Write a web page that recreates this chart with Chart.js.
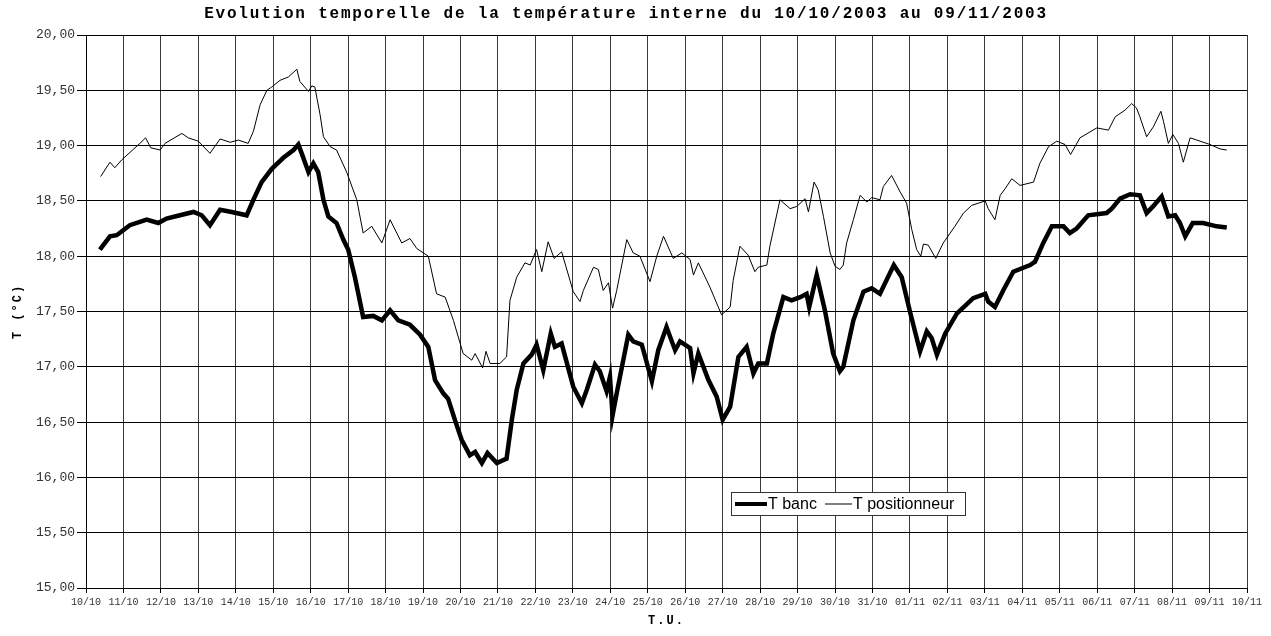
<!DOCTYPE html>
<html lang="fr">
<head>
    <meta charset="UTF-8">
    <title>Evolution temporelle de la température interne</title>
    <script src="https://cdnjs.cloudflare.com/ajax/libs/Chart.js/4.4.1/chart.umd.min.js"></script>
    <style>
        body{
            margin: 0;
            padding: 0;
            background-color: white;
        }
        canvas{
            display: block;
        }
    </style>
</head>
<body>
    <canvas id="mychart" width="1271" height="636"></canvas>
    <script>
        // time in days since 10/10/2003 00:00
        const startDate = [2003, 9, 10];
        const yTicks = [15, 15.5, 16, 16.5, 17, 17.5, 18, 18.5, 19, 19.5, 20];

        const bancDays = [0.37,0.64,0.82,1.17,1.62,1.93,2.15,2.51,2.87,3.09,3.31,3.58,3.89,4.29,4.47,4.69,4.96,5.27,5.54,5.67,5.76,5.94,6.07,6.20,6.34,6.47,6.69,6.87,7.00,7.18,7.40,7.67,7.90,8.12,8.34,8.65,8.92,9.14,9.32,9.54,9.67,9.85,10.03,10.25,10.39,10.57,10.72,10.97,11.23,11.37,11.50,11.68,11.90,12.03,12.21,12.41,12.52,12.70,13.01,13.24,13.37,13.59,13.72,13.90,13.99,14.06,14.17,14.48,14.61,14.84,15.11,15.28,15.50,15.73,15.86,16.13,16.22,16.35,16.62,16.84,17.00,17.20,17.42,17.64,17.82,17.95,18.18,18.35,18.62,18.84,19.07,19.24,19.31,19.51,19.73,19.95,20.13,20.22,20.49,20.76,20.98,21.20,21.57,21.78,22.00,22.27,22.45,22.58,22.72,22.94,23.25,23.69,24.01,24.09,24.27,24.49,24.76,25.21,25.34,25.56,25.79,26.10,26.27,26.45,26.76,27.25,27.39,27.61,27.88,28.14,28.32,28.49,28.72,28.90,29.08,29.21,29.35,29.55,29.83,30.19,30.46];
        const bancTemp = [18.06,18.18,18.19,18.28,18.33,18.30,18.34,18.37,18.40,18.37,18.28,18.42,18.40,18.37,18.51,18.67,18.79,18.89,18.96,19.01,18.93,18.76,18.84,18.76,18.51,18.36,18.30,18.15,18.06,17.81,17.45,17.46,17.42,17.51,17.42,17.38,17.29,17.18,16.88,16.76,16.71,16.52,16.34,16.20,16.23,16.13,16.22,16.13,16.17,16.52,16.79,17.03,17.11,17.20,16.97,17.30,17.18,17.21,16.82,16.67,16.79,17.02,16.96,16.78,16.91,16.56,16.76,17.29,17.23,17.20,16.87,17.15,17.36,17.15,17.23,17.17,16.94,17.12,16.88,16.73,16.52,16.64,17.09,17.18,16.94,17.03,17.03,17.30,17.63,17.60,17.63,17.66,17.54,17.83,17.51,17.12,16.96,17.00,17.42,17.68,17.71,17.66,17.92,17.81,17.50,17.14,17.32,17.26,17.11,17.30,17.48,17.62,17.66,17.59,17.54,17.69,17.86,17.92,17.95,18.12,18.27,18.27,18.21,18.25,18.37,18.39,18.43,18.52,18.56,18.55,18.39,18.45,18.54,18.36,18.37,18.30,18.18,18.30,18.30,18.27,18.26];

        const posDays = [0.39,0.64,0.77,0.95,1.44,1.59,1.73,1.98,2.11,2.56,2.73,3.00,3.31,3.58,3.85,4.07,4.33,4.47,4.65,4.83,4.96,5.18,5.40,5.63,5.71,5.94,6.03,6.11,6.25,6.34,6.52,6.69,6.96,7.23,7.40,7.63,7.90,8.12,8.43,8.65,8.83,9.14,9.36,9.59,9.81,10.07,10.30,10.39,10.59,10.68,10.79,11.05,11.23,11.32,11.50,11.72,11.86,12.03,12.17,12.34,12.50,12.70,13.01,13.19,13.28,13.55,13.68,13.81,13.95,14.06,14.17,14.44,14.61,14.79,15.06,15.24,15.42,15.68,15.91,16.13,16.22,16.35,16.66,16.97,17.20,17.28,17.46,17.68,17.86,17.95,18.18,18.26,18.53,18.80,18.98,19.20,19.29,19.44,19.55,19.69,19.87,20.00,20.13,20.22,20.31,20.49,20.67,20.85,20.98,21.20,21.29,21.51,21.74,21.91,22.05,22.18,22.29,22.36,22.49,22.69,22.89,23.20,23.43,23.65,24.01,24.09,24.27,24.41,24.54,24.72,24.94,25.30,25.47,25.70,25.92,26.14,26.29,26.54,26.99,27.30,27.48,27.74,27.92,28.05,28.14,28.32,28.50,28.70,28.77,28.90,29.02,29.17,29.30,29.48,29.66,30.01,30.28,30.46];
        const posTemp = [18.72,18.85,18.80,18.87,19.02,19.07,18.98,18.96,19.02,19.11,19.07,19.04,18.93,19.06,19.03,19.05,19.02,19.13,19.37,19.50,19.53,19.59,19.62,19.69,19.58,19.49,19.54,19.53,19.28,19.08,18.99,18.96,18.76,18.51,18.21,18.27,18.12,18.33,18.12,18.16,18.07,18.00,17.66,17.63,17.42,17.12,17.06,17.12,16.99,17.14,17.03,17.03,17.09,17.60,17.81,17.94,17.92,18.06,17.86,18.13,17.98,18.04,17.68,17.59,17.69,17.90,17.88,17.69,17.76,17.53,17.69,18.15,18.03,18.00,17.77,18.00,18.18,17.98,18.03,17.97,17.83,17.94,17.72,17.47,17.54,17.78,18.09,18.01,17.86,17.90,17.92,18.09,18.51,18.43,18.45,18.52,18.40,18.67,18.60,18.36,18.03,17.91,17.88,17.92,18.12,18.33,18.55,18.49,18.53,18.51,18.63,18.73,18.58,18.48,18.24,18.06,18.00,18.11,18.10,17.98,18.12,18.27,18.39,18.46,18.50,18.43,18.33,18.55,18.61,18.70,18.64,18.67,18.84,18.99,19.04,19.01,18.92,19.07,19.16,19.14,19.26,19.32,19.38,19.34,19.26,19.08,19.17,19.31,19.22,19.02,19.10,19.02,18.85,19.07,19.05,19.01,18.97,18.96];

        const titleText = 'Evolution temporelle de la température interne du 10/10/2003 au 09/11/2003';
        const xTitle = 'T.U.';
        const yTitle = 'T (°C)';
        const legendLabels = ['T banc', 'T positionneur'];

        function pts(days, vals){
            return days.map((d, i) => ({x: d, y: vals[i]}));
        }
        function dayLabel(v){
            const d = new Date(startDate[0], startDate[1], startDate[2] + Math.round(v));
            const dd = String(d.getDate()).padStart(2, '0');
            const mm = String(d.getMonth() + 1).padStart(2, '0');
            return dd + '/' + mm;
        }

        // title, axis titles and the boxed legend
        const textPlugin = {
            id: 'texts',
            afterDraw(chart){
                const ctx = chart.ctx;
                const a = chart.chartArea;
                ctx.save();
                ctx.fillStyle = '#000';
                ctx.textAlign = 'center';
                ctx.textBaseline = 'middle';
                ctx.font = 'bold 16px "Liberation Mono"';
                ctx.letterSpacing = '1.8px';
                ctx.fillText(titleText, 626, 14);
                ctx.font = 'bold 12px "Liberation Mono"';
                ctx.letterSpacing = '2px';
                ctx.fillText(xTitle, (a.left + a.right) / 2, 621);
                ctx.translate(18, (a.top + a.bottom) / 2);
                ctx.rotate(-Math.PI / 2);
                ctx.fillText(yTitle, 0, 0);
                ctx.restore();

                // legend box
                ctx.save();
                const lx = 731, ly = 492, lw = 234, lh = 23;
                ctx.fillStyle = '#fff';
                ctx.fillRect(lx, ly, lw, lh);
                ctx.strokeStyle = '#333';
                ctx.lineWidth = 1;
                ctx.strokeRect(lx + 0.5, ly + 0.5, lw, lh);
                const cy = ly + lh / 2 + 0.5;
                ctx.strokeStyle = '#000';
                ctx.lineWidth = 4;
                ctx.beginPath(); ctx.moveTo(735, cy); ctx.lineTo(767, cy); ctx.stroke();
                ctx.lineWidth = 1;
                ctx.beginPath(); ctx.moveTo(825, cy); ctx.lineTo(852, cy); ctx.stroke();
                ctx.fillStyle = '#000';
                ctx.font = '16px "Liberation Sans"';
                ctx.textAlign = 'left';
                ctx.textBaseline = 'middle';
                ctx.fillText(legendLabels[0], 768, cy + 1);
                ctx.fillText(legendLabels[1], 853, cy + 1);
                ctx.restore();
            }
        };

        const mychart = document.getElementById('mychart').getContext('2d');
        const linechart = new Chart(mychart, {
            type: 'line',
            data: {
                datasets: [{
                    label: legendLabels[0],
                    data: pts(bancDays, bancTemp),
                    borderColor: '#000',
                    borderWidth: 4.5,
                    pointRadius: 0,
                    tension: 0
                }, {
                    label: legendLabels[1],
                    data: pts(posDays, posTemp),
                    borderColor: '#000',
                    borderWidth: 1,
                    pointRadius: 0,
                    tension: 0
                }]
            },
            options: {
                responsive: false,
                animation: false,
                layout: {
                    padding: {top: 35, right: 24, left: 0, bottom: 0}
                },
                plugins: {
                    legend: {display: false},
                    title: {display: false},
                    tooltip: {enabled: false}
                },
                scales: {
                    x: {
                        type: 'linear',
                        min: 0,
                        max: 31,
                        afterFit(s){ s.height = 48; },
                        border: {color: '#000', width: 1},
                        grid: {color: '#3a3a3a', lineWidth: 1, tickLength: 5, tickColor: '#000'},
                        ticks: {
                            stepSize: 1,
                            autoSkip: false,
                            maxRotation: 0,
                            padding: 3,
                            color: '#333',
                            font: {family: '"Liberation Mono"', size: 10},
                            callback: (v) => dayLabel(v)
                        }
                    },
                    y: {
                        min: yTicks[0],
                        max: yTicks[yTicks.length - 1],
                        afterFit(s){ s.width = 86; },
                        afterBuildTicks(s){ s.ticks = yTicks.map(v => ({value: v})); },
                        border: {color: '#000', width: 1},
                        grid: {color: '#000', lineWidth: 1, tickLength: 9, tickColor: '#000'},
                        ticks: {
                            padding: 2,
                            color: '#333',
                            font: {family: '"Liberation Mono"', size: 13},
                            callback: (v) => v.toFixed(2).replace('.', ',')
                        }
                    }
                }
            },
            plugins: [textPlugin]
        });
    </script>
</body>
</html>
